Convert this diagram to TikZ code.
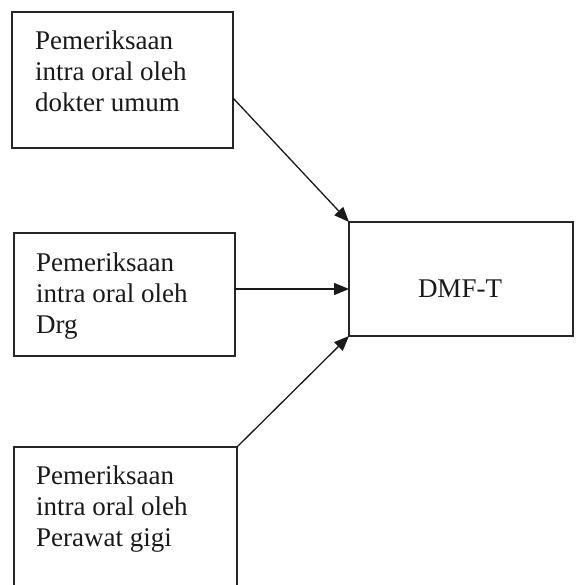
\documentclass[tikz,border=0pt]{standalone}
\usepackage{fontspec}
\setmainfont{Liberation Serif}
\usetikzlibrary{arrows.meta}
\begin{document}
\begin{tikzpicture}[x=1pt,y=-1pt,
  box/.style={draw=black!85, line width=1.1pt, inner sep=0pt, outer sep=0pt, anchor=north west},
  lbl/.style={anchor=base west, inner sep=0pt, align=left, font=\fontsize{27}{31}\selectfont, text=black!90},
  conn/.style={draw=black!90, line width=1.3pt, -{Triangle[length=15pt,width=12pt]}}]
\useasboundingbox (0,0) rectangle (578,585);
\node[box, minimum width=221pt, minimum height=136pt] (b1) at (12,12) {};
\node[box, minimum width=221pt, minimum height=123pt] (b2) at (14,233) {};
\node[box, draw=none, minimum width=223pt, minimum height=140pt] (b3) at (14,447) {};
\draw[black!85, line width=1.1pt] (b3.south west) -- (b3.north west) -- (b3.north east) -- (b3.south east);
\node[box, minimum width=224pt, minimum height=114pt] (d) at (349,222) {};
\node[lbl] (t1) at (35,112) {Pemeriksaan\\intra oral oleh\\dokter umum};
\node[lbl] (t2) at (36,333) {Pemeriksaan\\intra oral oleh\\Drg};
\node[lbl] (t3) at (36,546) {Pemeriksaan\\intra oral oleh\\Perawat gigi};
\node[anchor=base, inner sep=0pt, font=\fontsize{27}{31}\selectfont, text=black!90] (td) at (460,297) {DMF-T};
\coordinate (s1) at (233,98);
\coordinate (s2) at (235,289);
\coordinate (e2) at (349,289);
\draw[conn] (s1) -- (d.north west);
\draw[conn] (s2) -- (e2);
\draw[conn] (b3.north east) -- (d.south west);
\end{tikzpicture}
\end{document}
